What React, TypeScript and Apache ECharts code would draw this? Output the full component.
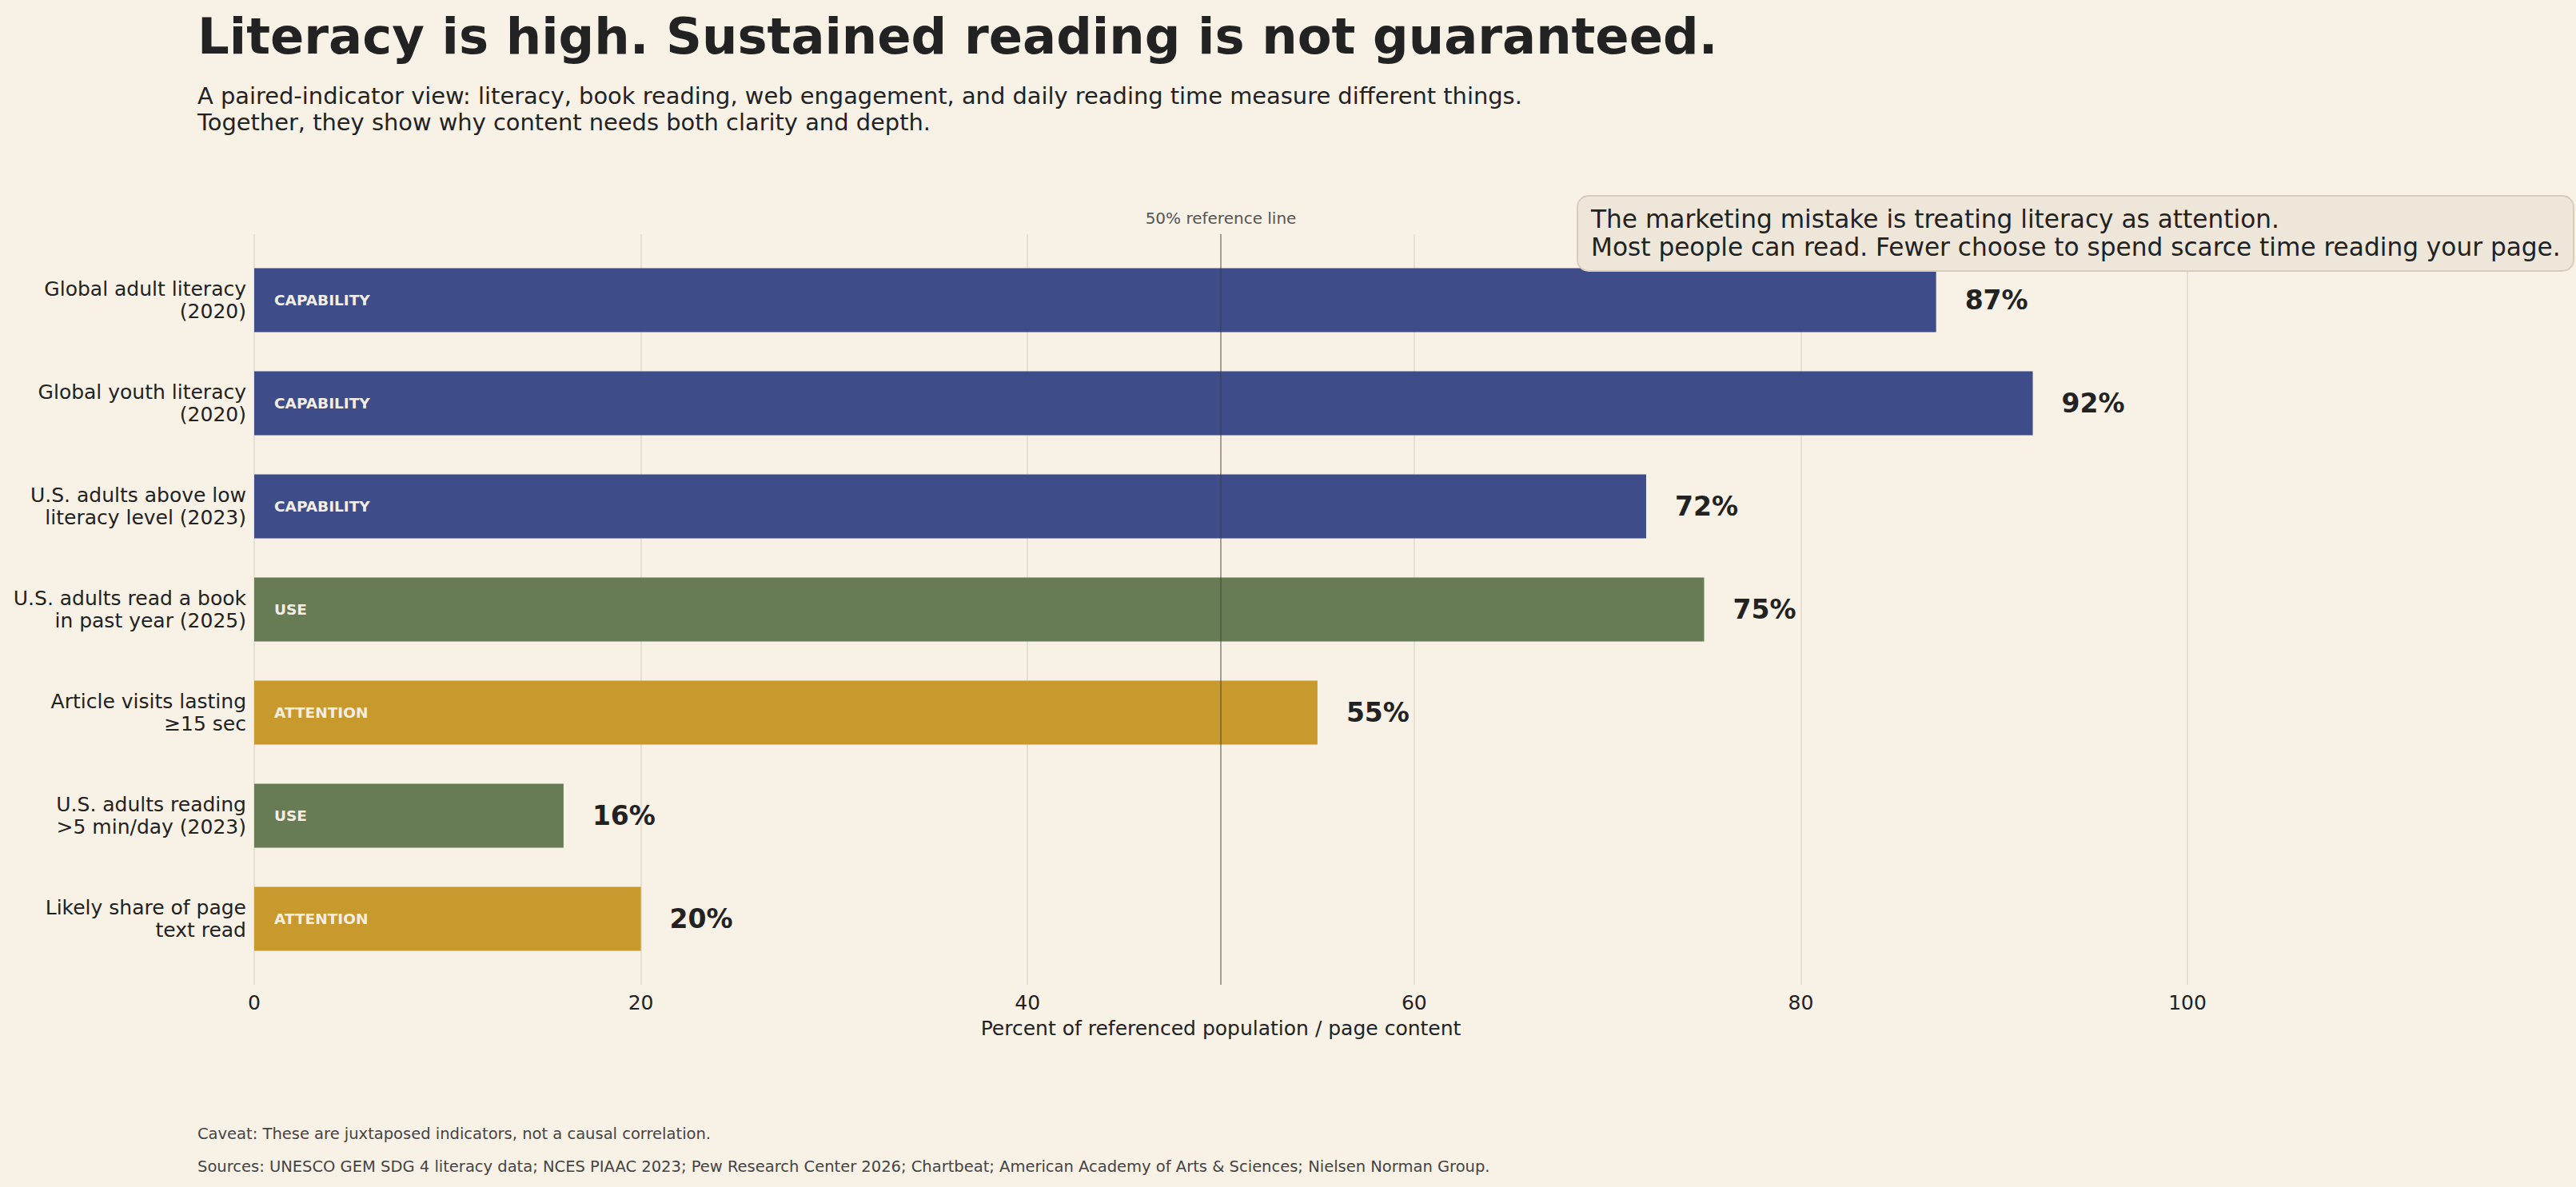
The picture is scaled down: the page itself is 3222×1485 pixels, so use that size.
import React, { useEffect, useRef } from "react";
import * as echarts from "echarts";

const categories = [
  "Global adult literacy\n(2020)",
  "Global youth literacy\n(2020)",
  "U.S. adults above low\nliteracy level (2023)",
  "U.S. adults read a book\nin past year (2025)",
  "Article visits lasting\n≥15 sec",
  "U.S. adults reading\n>5 min/day (2023)",
  "Likely share of page\ntext read",
];
const values = [87, 92, 72, 75, 55, 16, 20];
const groups = ["CAPABILITY", "CAPABILITY", "CAPABILITY", "USE", "ATTENTION", "USE", "ATTENTION"];
const xTicks = [0, 20, 40, 60, 80, 100];
const referenceValue = 50;

const groupColors: Record<string, string> = {
  CAPABILITY: "#3E4D89",
  USE: "#677B54",
  ATTENTION: "#C89A2E",
};

const FONT = '"DejaVu Sans", sans-serif';
const BG = "#F7F1E6";

export default function App() {
  const ref = useRef<HTMLDivElement>(null);
  useEffect(() => {
    if (!ref.current) return;
    const chart = echarts.init(ref.current, null, { renderer: "svg" });
    const option: any = {
      animation: false,
      backgroundColor: BG,
      textStyle: { fontFamily: FONT },
      grid: [
        { left: 318, right: 486, top: 293, bottom: 253 },
        { left: 318, right: 486, top: 311, bottom: 271 },
      ],
      xAxis: [
        {
          gridIndex: 0,
          type: "value",
          min: xTicks[0],
          max: xTicks[xTicks.length - 1],
          interval: 20,
          axisLine: { show: false },
          axisTick: { show: false },
          axisLabel: { fontSize: 25, color: "#222", margin: 10, fontFamily: FONT },
          splitLine: { show: true, lineStyle: { color: "#E2DACB", width: 1.5 } },
          name: "Percent of referenced population / page content",
          nameLocation: "middle",
          nameGap: 42,
          nameTextStyle: { fontSize: 25, color: "#222", fontFamily: FONT },
        },
        {
          gridIndex: 1,
          type: "value",
          min: 0,
          max: 100,
          show: false,
        },
      ],
      yAxis: [
        { gridIndex: 0, type: "value", min: 0, max: 1, show: false },
        {
          gridIndex: 1,
          type: "category",
          inverse: true,
          data: categories,
          axisLine: { show: false },
          axisTick: { show: false },
          axisLabel: {
            fontSize: 25,
            lineHeight: 28,
            color: "#222",
            margin: 10,
            align: "right",
            fontFamily: FONT,
          },
        },
      ],
      series: [
        {
          type: "bar",
          xAxisIndex: 1,
          yAxisIndex: 1,
          barWidth: 80,
          data: values.map((v, i) => ({ value: v, itemStyle: { color: groupColors[groups[i]] } })),
          label: {
            show: true,
            position: "right",
            distance: 36,
            formatter: "{c}%",
            fontSize: 33,
            fontWeight: "bold",
            color: "#222",
            fontFamily: FONT,
          },
          z: 2,
        },
        {
          type: "bar",
          xAxisIndex: 1,
          yAxisIndex: 1,
          barWidth: 80,
          barGap: "-100%",
          data: values,
          itemStyle: { color: "rgba(0,0,0,0)" },
          label: {
            show: true,
            position: "insideLeft",
            distance: 25,
            formatter: (p: any) => groups[p.dataIndex],
            fontSize: 18.5,
            fontWeight: "bold",
            color: "#F4EEE2",
            fontFamily: FONT,
          },
          z: 3,
        },
        {
          type: "scatter",
          xAxisIndex: 0,
          yAxisIndex: 0,
          symbolSize: 0,
          silent: true,
          data: [[referenceValue, 0.5]],
          z: 10,
          markLine: {
            silent: true,
            symbol: ["none", "none"],
            data: [{ xAxis: referenceValue }],
            lineStyle: { color: "rgba(60,60,55,0.45)", width: 2, type: "solid" },
            label: {
              show: true,
              position: "end",
              distance: 10,
              formatter: "50% reference line",
              fontSize: 20,
              color: "#555",
              fontFamily: FONT,
            },
          },
        },
      ],
      graphic: [
        {
          type: "text",
          x: 247,
          y: 45,
          style: {
            text: "Literacy is high. Sustained reading is not guaranteed.",
            fontSize: 62.4,
            fontWeight: "bold",
            fontFamily: FONT,
            fill: "#222",
            verticalAlign: "middle",
          },
        },
        {
          type: "text",
          x: 247,
          y: 120,
          style: {
            text: "A paired-indicator view: literacy, book reading, web engagement, and daily reading time measure different things.",
            fontSize: 28.9,
            fontFamily: FONT,
            fill: "#222",
            verticalAlign: "middle",
          },
        },
        {
          type: "text",
          x: 247,
          y: 153,
          style: {
            text: "Together, they show why content needs both clarity and depth.",
            fontSize: 28.9,
            fontFamily: FONT,
            fill: "#222",
            verticalAlign: "middle",
          },
        },
        {
          type: "rect",
          shape: { x: 1973, y: 245, width: 1246, height: 94, r: 14 },
          style: { fill: "#EEE6D9", stroke: "#D8CDB9", lineWidth: 2 },
          z: 20,
        },
        {
          type: "text",
          x: 1990,
          y: 274,
          z: 21,
          style: {
            text: "The marketing mistake is treating literacy as attention.",
            fontSize: 31.2,
            fontFamily: FONT,
            fill: "#222",
            verticalAlign: "middle",
          },
        },
        {
          type: "text",
          x: 1990,
          y: 309,
          z: 21,
          style: {
            text: "Most people can read. Fewer choose to spend scarce time reading your page.",
            fontSize: 31.2,
            fontFamily: FONT,
            fill: "#222",
            verticalAlign: "middle",
          },
        },
        {
          type: "text",
          x: 247,
          y: 1418,
          style: {
            text: "Caveat: These are juxtaposed indicators, not a causal correlation.",
            fontSize: 19.5,
            fontFamily: FONT,
            fill: "#444",
            verticalAlign: "middle",
          },
        },
        {
          type: "text",
          x: 247,
          y: 1459,
          style: {
            text: "Sources: UNESCO GEM SDG 4 literacy data; NCES PIAAC 2023; Pew Research Center 2026; Chartbeat; American Academy of Arts & Sciences; Nielsen Norman Group.",
            fontSize: 19.5,
            fontFamily: FONT,
            fill: "#444",
            verticalAlign: "middle",
          },
        },
      ],
    };
    chart.setOption(option);
    return () => chart.dispose();
  }, []);
  return (
    <div
      ref={ref}
      style={{ position: "fixed", left: 0, top: 0, width: 3222, height: 1485, background: BG }}
    />
  );
}
